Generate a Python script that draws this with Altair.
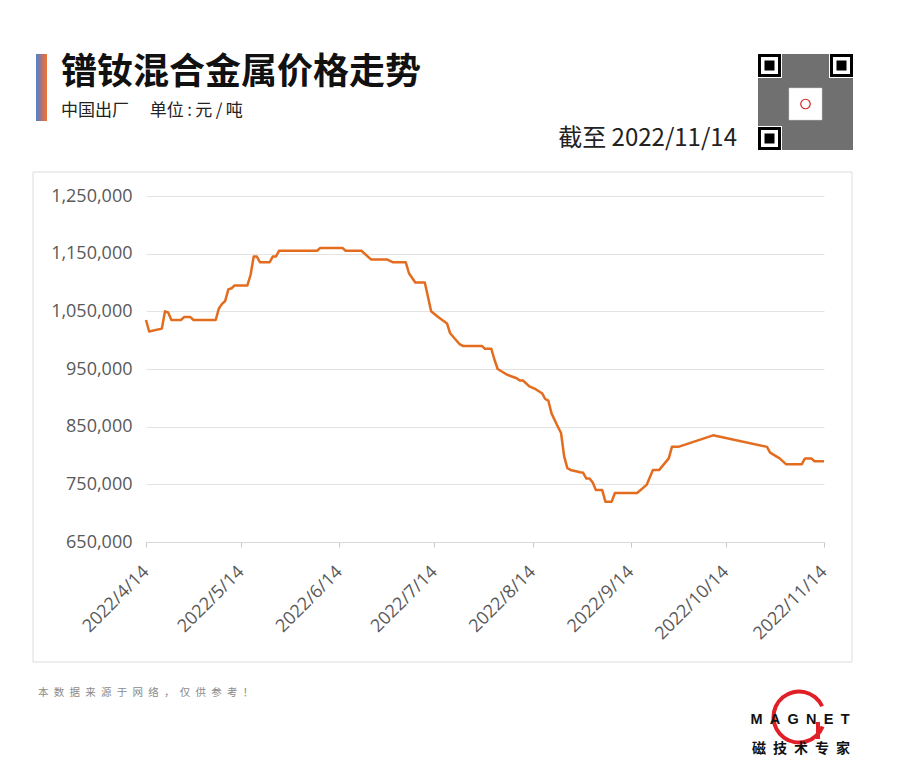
import math
import altair as alt
import pandas as pd

# ---------------- data ----------------
dates = ["2022-04-14", "2022-04-15", "2022-04-19", "2022-04-20", "2022-04-21", "2022-04-22",
         "2022-04-25", "2022-04-26", "2022-04-28", "2022-04-29", "2022-05-06", "2022-05-07",
         "2022-05-08", "2022-05-09", "2022-05-10", "2022-05-11", "2022-05-12", "2022-05-16",
         "2022-05-17", "2022-05-18", "2022-05-19", "2022-05-20", "2022-05-23", "2022-05-24",
         "2022-05-25", "2022-05-26", "2022-06-07", "2022-06-08", "2022-06-15", "2022-06-16",
         "2022-06-21", "2022-06-24", "2022-06-29", "2022-07-01", "2022-07-05", "2022-07-06",
         "2022-07-08", "2022-07-11", "2022-07-13", "2022-07-15", "2022-07-18", "2022-07-19",
         "2022-07-22", "2022-07-23", "2022-07-29", "2022-07-30", "2022-08-01", "2022-08-02",
         "2022-08-03", "2022-08-06", "2022-08-09", "2022-08-10", "2022-08-11", "2022-08-13",
         "2022-08-15", "2022-08-17", "2022-08-18", "2022-08-19", "2022-08-20", "2022-08-22",
         "2022-08-23", "2022-08-24", "2022-08-25", "2022-08-26", "2022-08-29", "2022-08-30",
         "2022-08-31", "2022-09-01", "2022-09-02", "2022-09-03", "2022-09-05", "2022-09-06",
         "2022-09-08", "2022-09-09", "2022-09-16", "2022-09-19", "2022-09-21", "2022-09-23",
         "2022-09-26", "2022-09-27", "2022-09-29", "2022-10-10", "2022-10-27", "2022-10-28",
         "2022-10-31", "2022-11-02", "2022-11-07", "2022-11-08", "2022-11-10", "2022-11-11",
         "2022-11-14"]

prices = [1035000, 1015000, 1020000, 1050000, 1048000, 1035000, 1035000, 1040000, 1040000, 1035000,
          1035000, 1055000, 1063000, 1068000, 1088000, 1090000, 1095000, 1095000, 1113000, 1145000,
          1145000, 1135000, 1135000, 1145000, 1145000, 1155000, 1155000, 1160000, 1160000, 1155000,
          1155000, 1140000, 1140000, 1135000, 1135000, 1116000, 1100000, 1100000, 1050000, 1041000,
          1029000, 1012000, 993000, 990000, 990000, 985000, 985000, 966000, 950000, 940000,
          934000, 930000, 930000, 920000, 915000, 908000, 898000, 895000, 873000, 850000,
          839000, 798000, 778000, 775000, 771000, 770000, 760000, 760000, 753000, 740000,
          740000, 720000, 720000, 735000, 735000, 749000, 775000, 775000, 795000, 815000,
          815000, 835000, 815000, 805000, 795000, 785000, 785000, 795000, 795000, 790000, 790000]

tick_months = [4, 5, 6, 7, 8, 9, 10, 11]
y_ticks = [650000, 750000, 850000, 950000, 1050000, 1150000, 1250000]

title_text = "镨钕混合金属价格走势"
subtitle_text = "中国出厂\u3000 单位\u2009:\u2009元\u2009/\u2009吨"
asof_text = "截至 2022/11/14"
footer_text = "\u2002".join(list("本数据来源于网络，仅供参考！"))
logo_word = "\u2002".join(list("MAGNET"))
logo_cn = "\u2002".join(list("磁技术专家"))

df = pd.DataFrame({"date": dates, "price": prices})
one = pd.DataFrame({"k": [0]})

# ---------------- layout ----------------
OX, OY = 146, 196          # page position of the plot origin
W, H = 678, 346
CJK = "Noto Sans CJK SC"


def box(x1, y1, x2, y2, **kw):
    return alt.Chart(one).mark_rect(**kw).encode(
        x=alt.value(x1 - OX), x2=alt.value(x2 - OX),
        y=alt.value(y1 - OY), y2=alt.value(y2 - OY))


def label(txt, x, y, **kw):
    return alt.Chart(one).mark_text(text=txt, **kw).encode(
        x=alt.value(x - OX), y=alt.value(y - OY))


layers = []
# panel frame (transparent fill so the axes stay visible)
layers.append(box(33, 172, 852, 662, fillOpacity=0, stroke="#dcdcdc", strokeWidth=1))
# colour bar beside the title
grad = alt.LinearGradient(gradient="linear",
                          stops=[alt.GradientStop(color="#4a86c8", offset=0),
                                 alt.GradientStop(color="#b0707a", offset=0.5),
                                 alt.GradientStop(color="#ee7630", offset=1)],
                          x1=0, x2=1, y1=0, y2=0)
layers.append(box(36, 54, 47, 121, color=grad))
# titles
layers.append(label(title_text, 61, 84, font=CJK, fontSize=36, fontWeight="bold",
                    align="left", baseline="alphabetic", color="#111111"))
layers.append(label(subtitle_text, 61, 116, font=CJK, fontSize=17,
                    align="left", baseline="alphabetic", color="#222222"))
layers.append(label(asof_text, 737, 146, font=CJK, fontSize=24,
                    align="right", baseline="alphabetic", color="#222222"))

# QR-like block
layers.append(box(758, 54, 853, 150, color="#707070"))
for (qx, qy) in [(758, 54), (830, 54), (758, 127)]:
    layers.append(box(qx - 1, qy - 1, qx + 24, qy + 24, color="white"))
    layers.append(box(qx, qy, qx + 23, qy + 23, color="black"))
    layers.append(box(qx + 3, qy + 3, qx + 20, qy + 20, color="white"))
    layers.append(box(qx + 6.5, qy + 6.5, qx + 16.5, qy + 16.5, color="black"))
layers.append(box(789, 88, 822, 120, color="white", stroke="#cccccc", strokeWidth=0.5))
layers.append(alt.Chart(one).mark_point(shape="circle", size=90, filled=False, opacity=1,
                                        color="#d62020", strokeWidth=1.2).encode(
    x=alt.value(805.5 - OX), y=alt.value(104 - OY)))

# footer
layers.append(label(footer_text, 38, 696, font=CJK, fontSize=10.5,
                    align="left", baseline="alphabetic", color="#8a8a8a"))
# logo ring: an open red ring behind the word mark
layers.append(alt.Chart(one).mark_arc(radius=27.5, radius2=23.5,
                                      theta=math.radians(112), theta2=math.radians(425),
                                      color="#e01f26").encode(
    x=alt.value(799 - OX), y=alt.value(717 - OY)))
layers.append(box(816, 722, 820, 739, color="#e01f26"))
layers.append(label(logo_word, 800, 724, font="Liberation Sans", fontSize=14.5, fontWeight="bold",
                    align="center", baseline="alphabetic", color="#111111"))
layers.append(label(logo_cn, 801, 753, font=CJK, fontSize=14, fontWeight="bold",
                    align="center", baseline="alphabetic", color="#111111"))

# ---------------- the price line ----------------
x_vals = [alt.DateTime(year=2022, month=m, date=14, utc=True) for m in tick_months]
line = alt.Chart(df).mark_line(color="#E36C1F", strokeWidth=2.5, strokeJoin="round").encode(
    x=alt.X("date:T",
            scale=alt.Scale(type="utc",
                            domain=[alt.DateTime(year=2022, month=4, date=14, utc=True),
                                    alt.DateTime(year=2022, month=11, date=14, utc=True)]),
            axis=alt.Axis(values=x_vals, labelExpr="utcFormat(datum.value, '%Y/%-m/%-d')",
                          labelAngle=315, labelAlign="right", labelBaseline="middle",
                          labelPadding=22, labelFlush=False, labelOverlap=False,
                          labelFont="Open Sans", labelFontSize=18, labelColor="#595959",
                          grid=False, tickColor="#c8c8c8", tickSize=5,
                          domainColor="#d9d9d9", title="")),
    y=alt.Y("price:Q",
            scale=alt.Scale(domain=[650000, 1250000], nice=False, zero=False),
            axis=alt.Axis(values=y_ticks, format=",.0f", labelFont="Open Sans", labelFontSize=18,
                          labelColor="#595959", labelPadding=14, domain=False, ticks=False,
                          grid=True, gridColor="#e3e3e3", title="")),
)
layers.append(line)

chart = alt.layer(*layers).properties(
    width=W, height=H,
    padding={"left": OX - 8, "top": OY - 8, "right": 68, "bottom": 220},
    autosize=alt.AutoSizeParams(type="none"),
    background="white",
).configure_view(strokeWidth=0)

chart.save("out.html", embed_options={"renderer": "svg", "actions": False})
